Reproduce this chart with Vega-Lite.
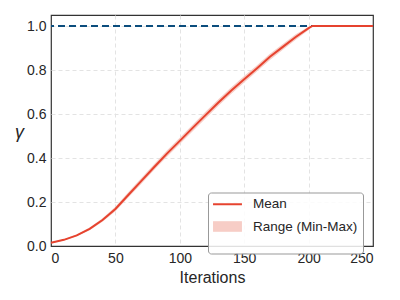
{
  "$schema": "https://vega.github.io/schema/vega-lite/v6.json",
  "width": 322,
  "height": 231,
  "autosize": {"type": "none"},
  "padding": {"left": 51, "top": 15, "right": 27, "bottom": 54},
  "background": "white",
  "config": {
    "font": "Liberation Sans",
    "view": {"stroke": "#333333", "strokeWidth": 1.2},
    "axis": {
      "labelFont": "Liberation Sans",
      "titleFont": "Liberation Sans",
      "labelFontSize": 14,
      "labelColor": "#262626",
      "titleColor": "#262626",
      "ticks": false,
      "domain": false,
      "grid": true,
      "gridColor": "#e3e3e3",
      "gridDash": [4, 3],
      "gridWidth": 1,
      "labelPadding": 5
    },
    "legend": {
      "orient": "none",
      "legendX": 157,
      "legendY": 177.5,
      "direction": "vertical",
      "title": null,
      "labelFont": "Liberation Sans",
      "labelFontSize": 13.5,
      "labelColor": "#262626",
      "symbolSize": 29,
      "symbolType": "M-2.96,0H7.78",
      "labelOffset": 24,
      "rowPadding": -7,
      "padding": 5,
      "strokeColor": "#999999",
      "fillColor": "rgba(255,255,255,0.85)",
      "cornerRadius": 3
    }
  },
  "data": {
    "values": [
      {"x": 0, "mean": 0.015, "lo": 0.013, "hi": 0.017},
      {"x": 10, "mean": 0.028, "lo": 0.025, "hi": 0.031},
      {"x": 20, "mean": 0.048, "lo": 0.044, "hi": 0.052},
      {"x": 30, "mean": 0.078, "lo": 0.072, "hi": 0.084},
      {"x": 40, "mean": 0.118, "lo": 0.110, "hi": 0.126},
      {"x": 50, "mean": 0.168, "lo": 0.158, "hi": 0.178},
      {"x": 60, "mean": 0.232, "lo": 0.220, "hi": 0.244},
      {"x": 70, "mean": 0.295, "lo": 0.282, "hi": 0.308},
      {"x": 80, "mean": 0.358, "lo": 0.345, "hi": 0.372},
      {"x": 90, "mean": 0.420, "lo": 0.406, "hi": 0.434},
      {"x": 100, "mean": 0.478, "lo": 0.464, "hi": 0.492},
      {"x": 110, "mean": 0.537, "lo": 0.522, "hi": 0.551},
      {"x": 120, "mean": 0.595, "lo": 0.580, "hi": 0.610},
      {"x": 130, "mean": 0.652, "lo": 0.637, "hi": 0.667},
      {"x": 140, "mean": 0.707, "lo": 0.692, "hi": 0.722},
      {"x": 150, "mean": 0.758, "lo": 0.743, "hi": 0.773},
      {"x": 160, "mean": 0.808, "lo": 0.794, "hi": 0.822},
      {"x": 170, "mean": 0.860, "lo": 0.846, "hi": 0.874},
      {"x": 180, "mean": 0.905, "lo": 0.892, "hi": 0.918},
      {"x": 190, "mean": 0.950, "lo": 0.938, "hi": 0.962},
      {"x": 200, "mean": 0.990, "lo": 0.982, "hi": 0.997},
      {"x": 203, "mean": 1.0, "lo": 1.0, "hi": 1.0},
      {"x": 210, "mean": 1.0, "lo": 1.0, "hi": 1.0},
      {"x": 230, "mean": 1.0, "lo": 1.0, "hi": 1.0},
      {"x": 250, "mean": 1.0, "lo": 1.0, "hi": 1.0}
    ]
  },
  "layer": [
    {
      "mark": {"type": "area"},
      "encoding": {
        "x": {
          "field": "x", "type": "quantitative",
          "scale": {"domain": [0, 250], "nice": false},
          "axis": {
            "values": [0, 50, 100, 150, 200, 250],
            "title": "Iterations", "titleFontSize": 16, "titleFontWeight": "normal", "titlePadding": 4,
            "gridOpacity": {"condition": {"test": "datum.value === 0 || datum.value === 250", "value": 0}, "value": 1}
          }
        },
        "y": {
          "field": "lo", "type": "quantitative",
          "scale": {"domain": [0, 1.05], "nice": false},
          "axis": {
            "values": [0, 0.2, 0.4, 0.6, 0.8, 1.0], "format": ".1f",
            "title": "γ", "titleAngle": 0, "titleFontSize": 18, "titleFontStyle": "italic", "titleFontWeight": "normal",
            "titleX": -32, "titleY": 117, "titleAlign": "center", "titleBaseline": "middle",
            "gridOpacity": {"condition": {"test": "datum.value === 0", "value": 0}, "value": 1}
          }
        },
        "y2": {"field": "hi"},
        "color": {
          "datum": "Range (Min-Max)", "type": "nominal",
          "scale": {"domain": ["Mean", "Range (Min-Max)"], "range": ["#e6432f", "#f7cdc6"]},
          "legend": {"title": null}
        },
        "strokeWidth": {
          "datum": "Range (Min-Max)", "type": "nominal",
          "scale": {"type": "point", "padding": 0, "domain": ["Mean", "Range (Min-Max)"], "range": [2, 10.6]},
          "legend": {"title": null}
        }
      }
    },
    {
      "mark": {"type": "rule", "color": "#0b4d7d", "strokeWidth": 2, "strokeDash": [7, 4]},
      "encoding": {
        "y": {"datum": 1.0}
      }
    },
    {
      "mark": {"type": "line"},
      "encoding": {
        "x": {"field": "x", "type": "quantitative"},
        "y": {"field": "mean", "type": "quantitative"},
        "color": {"datum": "Mean", "type": "nominal"},
        "strokeWidth": {"datum": "Mean", "type": "nominal"}
      }
    }
  ]
}
